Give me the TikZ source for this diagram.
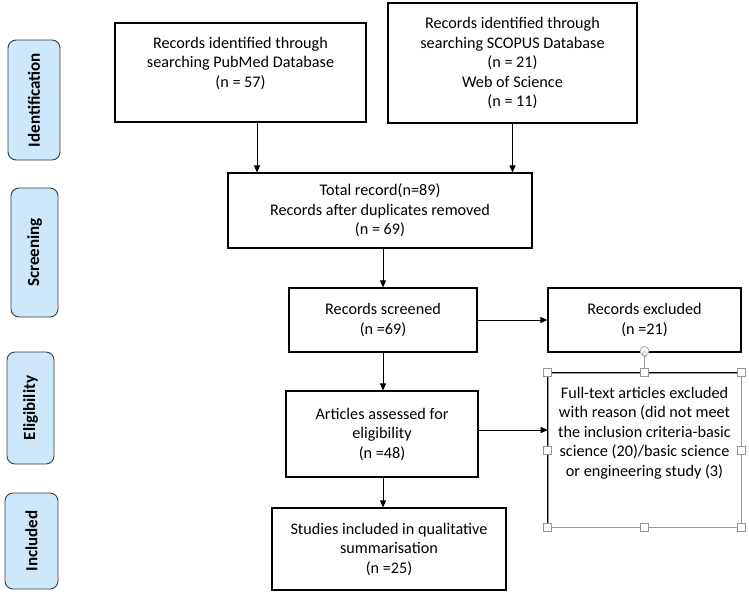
\documentclass[tikz,border=0pt]{standalone}
\usepackage{fontspec}
\setmainfont{Carlito}
\usetikzlibrary{arrows.meta}
\usetikzlibrary{positioning}
\definecolor{phaseblue}{RGB}{204,232,250}
\definecolor{phaseline}{RGB}{60,60,60}
\definecolor{handlegray}{RGB}{150,150,150}
\newcommand{\boxfont}{\fontsize{16.2}{19.5}\selectfont}
\newcommand{\phasefont}{\fontsize{17}{19}\selectfont\bfseries}

\begin{document}
\begin{tikzpicture}[x=1pt,y=-1pt,->,>={Triangle[length=7pt,width=6pt]},line width=1pt,
    box node/.style={draw,line width=1.1pt,align=center,font=\boxfont,inner sep=0pt},
    text node/.style={align=center,font=\boxfont,inner sep=0pt},
    phase node/.style={draw=phaseline,fill=phaseblue,rounded corners=8pt,rotate=90,font=\phasefont,line width=0.9pt,inner sep=0pt},
    handle node/.style={draw=handlegray,fill=white,minimum size=8pt,inner sep=0pt,line width=0.6pt}]
  \useasboundingbox (0,0) rectangle (749,595);

  % phases
  \node[phase node,minimum width=120pt,minimum height=52pt] (ident) at (34,100) {Identification};
  \node[phase node,minimum width=129pt,minimum height=47pt] (screen) at (34.5,252.5) {Screening};
  \node[phase node,minimum width=112pt,minimum height=47pt] (elig) at (30.5,408) {Eligibility};
  \node[phase node,minimum width=96pt,minimum height=53pt] (incl) at (31.5,541) {Included};

  % boxes
  \node[box node,minimum width=251pt,minimum height=99pt] (pubmed) at (240.5,72.5) {};
  \node[text node,below=14pt of pubmed.north] (pubmedtext) {Records identified through\\searching PubMed Database\\(n = 57)};
  \node[box node,minimum width=249pt,minimum height=120pt] (scopus) at (512.5,63)
    {Records identified through\\searching SCOPUS Database\\(n = 21)\\Web of Science\\(n = 11)};
  \node[box node,minimum width=304pt,minimum height=75pt] (total) at (380,210.5)
    {Total record(n=89)\\Records after duplicates removed\\(n = 69)};
  \node[box node,minimum width=188pt,minimum height=64pt] (screened) at (383,320)
    {Records screened\\(n =69)};
  \node[box node,minimum width=193pt,minimum height=64pt] (excluded) at (644.5,320)
    {Records excluded\\(n =21)};
  \node[box node,minimum width=192pt,minimum height=86pt] (articles) at (382,434)
    {Articles assessed for\\eligibility\\(n =48)};
  \node[box node,draw=handlegray,line width=0.6pt,minimum width=193pt,minimum height=154pt] (fulltext) at (644.5,450) {};
  \node[text node,below=14pt of fulltext.north] (fulltexttext) {Full-text articles excluded\\with reason (did not meet\\the inclusion criteria-basic\\science (20)/basic science\\or engineering study (3)};
  \node[box node,minimum width=234pt,minimum height=82pt] (studies) at (389,549)
    {Studies included in qualitative\\summarisation\\(n =25)};

  % arrows
  \coordinate (pubmedout) at ([xshift=16.5pt]pubmed.south);
  \draw (pubmedout) -- (pubmedout |- total.north);
  \draw (scopus.south) -- (scopus.south |- total.north);
  \draw (total.south -| screened.north) -- (screened.north);
  \draw (screened.south) -- (screened.south |- articles.north);
  \draw (articles.south -| screened.south) -- (screened.south |- studies.north);
  \draw (screened.east) -- (excluded.west);
  \coordinate (articlesout) at ([yshift=4pt]articles.east);
  \draw (articlesout) -- (articlesout -| fulltext.west);

  % selected text box
  \draw[-,line width=1.1pt] (fulltext.south west) -- (fulltext.north west) -- (fulltext.north east);
  \node[circle,draw=handlegray,fill=white,minimum size=9pt,inner sep=0pt,line width=0.6pt] (rothandle) at (644.5,351) {};
  \draw[-,draw=handlegray,line width=0.6pt] (rothandle.south) -- (fulltext.north);
  \draw[-{Straight Barb[length=1.2pt,width=2pt]},draw=handlegray,line width=0.5pt]
    ([shift={(2.2pt,-1.5pt)}]rothandle.center) arc[start angle=40,end angle=320,radius=2.4pt];
  \foreach \a in {north west,north,north east,west,east,south west,south,south east}
    \node[handle node] at (fulltext.\a) {};
\end{tikzpicture}
\end{document}
